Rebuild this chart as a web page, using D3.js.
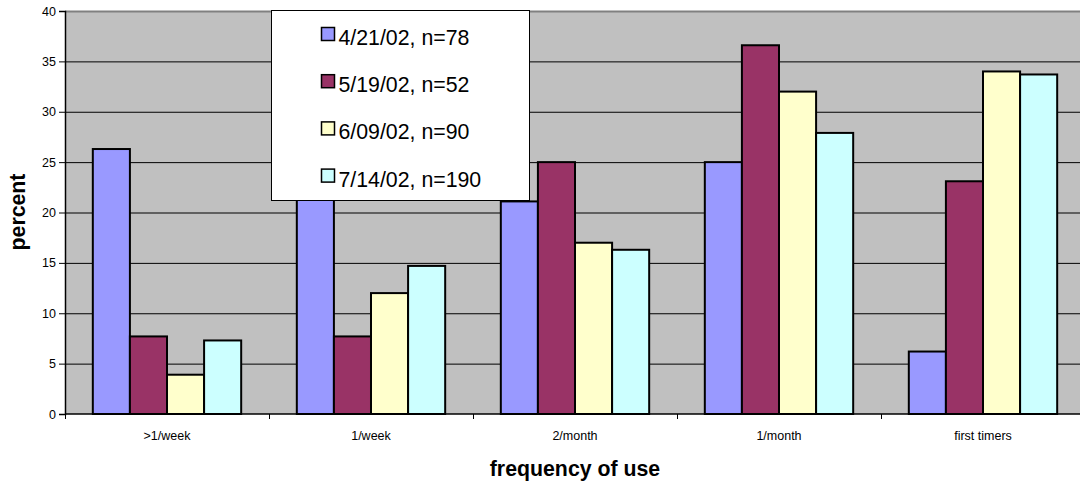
<!DOCTYPE html>
<html>
<head>
<meta charset="utf-8">
<script src="https://cdn.jsdelivr.net/npm/d3@7"></script>
<style>
  html, body { margin: 0; padding: 0; background: #fff; }
  svg { display: block; font-family: "Liberation Sans", Arial, sans-serif; }
</style>
</head>
<body>
<svg id="chart" width="1080" height="487"></svg>
<script>
// Frequency-of-use survey, percent of respondents per survey date
const categories = [">1/week", "1/week", "2/month", "1/month", "first timers"];
const seriesNames = ["4/21/02, n=78", "5/19/02, n=52", "6/09/02, n=90", "7/14/02, n=190"];
const apr21 = [26.3, 21.5, 21.1, 25.0, 6.2];
const may19 = [7.7, 7.7, 25.0, 36.6, 23.1];
const jun09 = [3.9, 12.0, 17.0, 32.0, 34.0];
const jul14 = [7.3, 14.7, 16.3, 27.9, 33.7];
const yTicks = [0, 5, 10, 15, 20, 25, 30, 35, 40];
const seriesColors = ["#9999FF", "#993366", "#FFFFCC", "#CCFFFF"];

const seriesValues = [apr21, may19, jun09, jul14];
const rows = categories.map((c, i) => ({
  category: c,
  values: seriesValues.map((s, k) => ({ key: k, value: s[i] }))
}));

const svg = d3.select("#chart");
const plot = { left: 65, right: 1085, top: 11, bottom: 414 };

const x0 = d3.scaleBand().domain(categories).range([plot.left, plot.right]).paddingInner(0).paddingOuter(0);
// gap width of 150%: each band holds 4 bars plus 1.5 bars of gap
const groupFrac = 4 / 5.5;
const x1 = d3.scaleBand().domain(d3.range(seriesNames.length))
  .range([0, x0.bandwidth() * groupFrac]);
const groupOffset = x0.bandwidth() * (1 - groupFrac) / 2;
const y = d3.scaleLinear().domain([0, 40]).range([plot.bottom, plot.top]);

// plot area background
svg.append("rect")
  .attr("x", plot.left).attr("y", plot.top)
  .attr("width", plot.right - plot.left).attr("height", plot.bottom - plot.top)
  .attr("fill", "#C0C0C0");

// horizontal gridlines
svg.append("g").selectAll("line")
  .data(yTicks.filter(t => t > 0 && t < 40))
  .join("line")
  .attr("x1", plot.left).attr("x2", plot.right)
  .attr("y1", d => y(d) + 0.5).attr("y2", d => y(d) + 0.5)
  .attr("stroke", "#000").attr("stroke-width", 1);

// plot area top border
svg.append("line")
  .attr("x1", plot.left).attr("x2", plot.right)
  .attr("y1", plot.top + 0.5).attr("y2", plot.top + 0.5)
  .attr("stroke", "#808080").attr("stroke-width", 2);

// bars
const groups = svg.append("g").selectAll("g")
  .data(rows)
  .join("g")
  .attr("transform", d => `translate(${x0(d.category) + groupOffset},0)`);

groups.selectAll("rect")
  .data(d => d.values)
  .join("rect")
  .attr("x", d => x1(d.key))
  .attr("y", d => y(d.value))
  .attr("width", x1.bandwidth())
  .attr("height", d => y(0) - y(d.value))
  .attr("fill", d => seriesColors[d.key])
  .attr("stroke", "#000")
  .attr("stroke-width", 2);

// y axis
const yAxis = svg.append("g")
  .attr("transform", `translate(${plot.left},0)`)
  .call(d3.axisLeft(y).tickValues(yTicks).tickSize(6).tickPadding(3));
yAxis.select(".domain").attr("stroke", "#000").attr("stroke-width", 1.5);
yAxis.selectAll(".tick line").attr("stroke", "#000");
yAxis.selectAll(".tick text").attr("font-size", 12.5).attr("fill", "#000")
  .attr("font-family", "Liberation Sans, Arial, sans-serif");

// x axis with ticks at category boundaries
const xAxisG = svg.append("g").attr("transform", `translate(0,${plot.bottom})`);
xAxisG.append("line")
  .attr("x1", plot.left).attr("x2", plot.right)
  .attr("y1", 0).attr("y2", 0)
  .attr("stroke", "#000").attr("stroke-width", 1.5);
const boundaries = categories.map(c => x0(c)).concat([plot.right]);
xAxisG.selectAll("line.tk")
  .data(boundaries)
  .join("line")
  .attr("class", "tk")
  .attr("x1", d => d + 0.5).attr("x2", d => d + 0.5)
  .attr("y1", 0).attr("y2", 5)
  .attr("stroke", "#000");
xAxisG.selectAll("text")
  .data(categories)
  .join("text")
  .attr("x", d => x0(d) + x0.bandwidth() / 2)
  .attr("y", 25.5)
  .attr("text-anchor", "middle")
  .attr("font-size", 12.5)
  .attr("fill", "#000")
  .text(d => d);

// axis titles
svg.append("text")
  .attr("x", 575).attr("y", 476)
  .attr("text-anchor", "middle")
  .attr("font-size", 21.3).attr("font-weight", "bold")
  .text("frequency of use");

svg.append("text")
  .attr("transform", "translate(25,212) rotate(-90)")
  .attr("text-anchor", "middle")
  .attr("font-size", 21.3).attr("font-weight", "bold")
  .text("percent");

// legend
const legend = svg.append("g");
legend.append("rect")
  .attr("x", 271.5).attr("y", 10.5)
  .attr("width", 258).attr("height", 190)
  .attr("fill", "#fff").attr("stroke", "#000").attr("stroke-width", 1);
const items = legend.selectAll("g.item")
  .data(seriesNames)
  .join("g")
  .attr("class", "item")
  .attr("transform", (d, i) => `translate(0,${45 + i * 47.2})`);
items.append("rect")
  .attr("x", 321.5).attr("y", -17.5)
  .attr("width", 13).attr("height", 13)
  .attr("fill", (d, i) => seriesColors[i])
  .attr("stroke", "#000").attr("stroke-width", 1.5);
items.append("text")
  .attr("x", 338.5).attr("y", 0)
  .attr("font-size", 21.3)
  .attr("fill", "#000")
  .text(d => d);
</script>
</body>
</html>
